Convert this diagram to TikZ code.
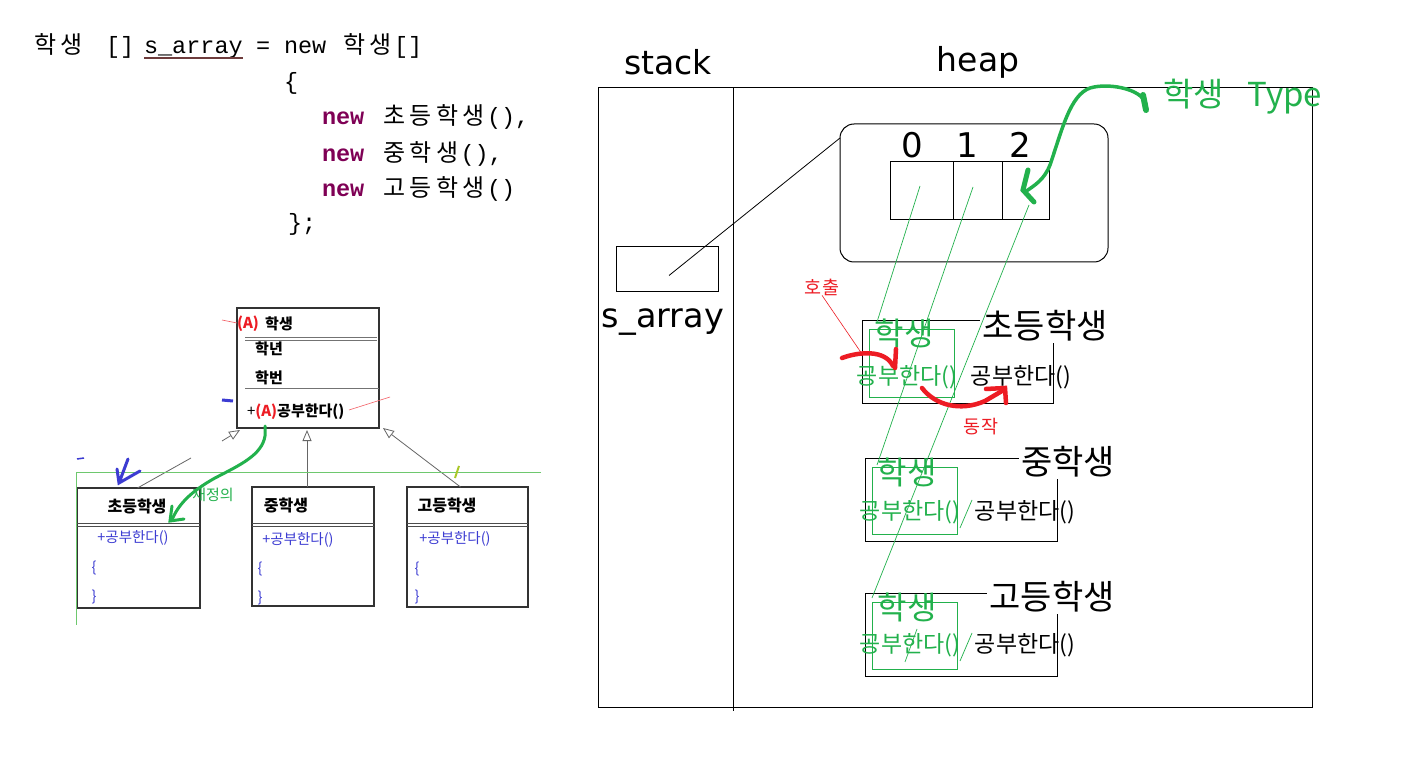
\documentclass[tikz,border=0pt]{standalone}
\usepackage{fontspec}
\setmainfont{DejaVu Sans}
\newfontfamily\kr{Noto Sans CJK KR}
\newfontfamily\mono{Liberation Mono}
\usetikzlibrary{arrows.meta,calc}
\newcommand\fsz[1]{\fontsize{#1}{#1}\selectfont}
\def\Kx#1{\ifx#1\relax\else\hbox to 26.5pt{\hss#1\hss}\expandafter\Kx\fi}
\newcommand\K[1]{{\kr\fsz{24}\Kx#1\relax}}
\definecolor{gr}{RGB}{34,177,76}
\definecolor{rd}{RGB}{237,28,36}
\definecolor{kw}{RGB}{127,0,85}
\definecolor{bl}{RGB}{60,60,210}
\definecolor{ulc}{RGB}{110,60,60}
\definecolor{lgr}{RGB}{110,200,110}
\definecolor{ygr}{RGB}{170,200,40}
\begin{document}
\begin{tikzpicture}[x=1pt,y=-1pt,
  every node/.style={inner sep=0pt,outer sep=0pt},
  codeline/.style={anchor=base west,font=\mono\fsz{23.5}},
  kwd/.style={anchor=base west,font=\mono\bfseries\fsz{23.5},text=kw},
  big/.style={font=\fsz{33}},
  krbig/.style={font=\kr\fsz{34}},
  grbig/.style={font=\kr\fsz{32},text=gr},
  meth/.style={font=\kr\fsz{23}},
  objbox/.style={draw=black,line width=1pt},
  inbox/.style={draw=gr,line width=0.9pt},
  ref/.style={draw=gr,line width=0.7pt},
  umlbox/.style={draw=black!80,line width=1.1pt},
  sep/.style={draw=black!55,line width=1pt},
  umltxt/.style={font=\kr\bfseries\fsz{15}},
  umlm/.style={font=\kr\fsz{14.5},text=bl},
  inh/.style={draw=black!60,line width=0.8pt,-{Triangle[open,length=11pt,width=9pt]}},
  redhand/.style={draw=rd,line width=4.5pt,line cap=round},
  grhand/.style={draw=gr,line width=3.5pt,line cap=round}]
\useasboundingbox (0,0) rectangle (1419,775);
\fill[white] (0,0) rectangle (1419,775);

% ---------------- code ----------------
\node[codeline] (c1a) at (32,54) {\K{학생}};
\node[codeline] (c1b) at (106,54) {[]};
\node[codeline] (c1c) at (144,54) {s\_array};
\node[codeline] (c1d) at (256,54) {=};
\node[codeline] (c1e) at (284,54) {new};
\node[codeline] (c1f) at (341,54) {\K{학생}[]};
\draw[ulc,line width=1.6pt] ($(c1c.base west)+(0,4)$) -- ($(c1c.base east)+(0,4)$);
\node[codeline] (c2) at (284,90) {\{};
\node[kwd] (n3) at (322,125) {new};
\node[codeline] (c3) at (381,125) {\K{초등학생}(),};
\node[kwd] (n4) at (322,162) {new};
\node[codeline] (c4) at (381,162) {\K{중학생}(),};
\node[kwd] (n5) at (322,197) {new};
\node[codeline] (c5) at (381,197) {\K{고등학생}()};
\node[codeline] (c6) at (288,231) {\};};

% ---------------- UML ----------------
\node[umlbox,minimum width=142,minimum height=120] (sup) at (308,368) {};
\node[anchor=west,font=\kr\bfseries\fsz{15},text=rd] (supa) at (237,324) {(A)};
\node[umltxt] (supn) at (279,324) {학생};
\draw[sep] (245,337.5) -- (377,337.5);
\draw[sep] (245,340.5) -- (377,340.5);
\node[umltxt] (att1) at (269,349) {학년};
\node[umltxt] (att2) at (269,378) {학번};
\draw[sep] (245,389) -- (379,389);
\node[anchor=west,font=\kr\fsz{15}] (supm) at (247,412) {+{\color{rd}\bfseries(A)}{\bfseries 공부한다()}};
\draw[rd!70,line width=0.6pt] (222,320) -- (237,323);
\draw[rd!70,line width=0.6pt] (349,410) -- (390,397);
\draw[bl,line width=3pt] (222,400) -- (233,401);

\node[umlbox,minimum width=123,minimum height=120] (sub1) at (138.5,548) {};
\node[umlbox,minimum width=122,minimum height=119] (sub2) at (313,546.5) {};
\node[umlbox,minimum width=121,minimum height=120] (sub3) at (467.5,547) {};
\node[umltxt,font=\kr\bfseries\fsz{16}] (t1) at (137,506) {초등학생};
\node[umltxt,font=\kr\bfseries\fsz{16}] (t2) at (286,505) {중학생};
\node[umltxt,font=\kr\bfseries\fsz{16}] (t3) at (447,505) {고등학생};
\foreach \a/\b in {77/200,252/374,407/528}{
  \draw[sep,black!70] (\a,523) -- (\b,523);
  \draw[sep,black!70] (\a,526) -- (\b,526);}
\node[umlm] (m1) at (133,538) {+공부한다()};
\node[umlm] (m2) at (298,540) {+공부한다()};
\node[umlm] (m3) at (455,539) {+공부한다()};
\node[umlm] (ob1) at (94,568) {\{};
\node[umlm] (cb1) at (94,597) {\}};
\node[umlm] (ob2) at (260,569) {\{};
\node[umlm] (cb2) at (260,598) {\}};
\node[umlm] (ob3) at (417,569) {\{};
\node[umlm] (cb3) at (417,597) {\}};

\coordinate (brk) at (191,458);
\coordinate (brk2) at (222,441);
\draw[draw=black!60,line width=0.8pt] ($(sub1.north)+(-1,0)$) -- (brk);
\draw[inh] (brk2) -- ($(sup.south west)+(3,2)$);
\draw[inh] ($(sub2.north)+(-6,0)$) -- ($(sup.south)+(-1,2)$);
\draw[inh] ($(sub3.north)+(-7,0)$) -- ($(sup.south east)+(4,0)$);

\draw[lgr,line width=0.9pt] (541,472) -- (76,472) -- (76,625);
\draw[bl,line width=3pt,line cap=round] (128,459) -- (119,483) (117,469) -- (119,483) -- (140,471);
\draw[bl,line width=1.5pt] (77,459) -- (84,458);
\draw[ygr,line width=2pt] (455,478) -- (459,466);

\node[font=\kr\fsz{15},text=gr] (redef) at (213,495) {재정의};
\draw[grhand,line width=3pt] ($(sup.south west)+(28,-2)$) -- ++(0,10) .. controls (262,455) and (240,465) .. (215,478) .. controls (190,492) and (178,505) .. (172,520);
\draw[grhand,line width=3pt] (172,506) -- (170,521) -- (184,519);

% ---------------- stack / heap ----------------
\node[big] (stk) at (668,62) {stack};
\node[big] (hp) at (978,62) {heap};
\draw[line width=1pt] (598,88) rectangle (1312,707);
\draw[line width=1pt] (733,88) -- (733,711);

\node[objbox,minimum width=102,minimum height=45] (sbox) at (667,269.5) {};
\node[big,font=\fsz{33.5}] (slab) at (663,322) {s\_array};

\node[objbox,rounded corners=14pt,minimum width=268,minimum height=138] (arr) at (974,193) {};
\node[objbox,minimum width=63,minimum height=58] (cell0) at (921.5,191) {};
\node[objbox,minimum width=49,minimum height=58] (cell1) at (977.5,191) {};
\node[objbox,minimum width=47,minimum height=58] (cell2) at (1025.5,191) {};
\node[font=\fsz{34}] (d0) at (912,145) {0};
\node[font=\fsz{34}] (d1) at (967,145) {1};
\node[font=\fsz{34}] (d2) at (1020,145) {2};
\draw[line width=0.8pt] ($(sbox.center)+(2,6)$) -- ($(arr.north west)+(0,14)$);

% objects
\node[objbox,minimum width=191,minimum height=83] (o1) at (957.5,362.5) {};
\node[inbox,minimum width=85,minimum height=68] (g1) at (911.5,363) {};
\node[objbox,minimum width=192,minimum height=83] (o2) at (961,499.5) {};
\node[inbox,minimum width=85,minimum height=67] (g2) at (914.5,500.5) {};
\node[objbox,minimum width=192,minimum height=83] (o3) at (961,634.5) {};
\node[inbox,minimum width=85,minimum height=67] (g3) at (914.5,635.5) {};

\node[krbig,fill=white,inner sep=2pt] (l1) at (1045,326) {초등학생};
\node[krbig,fill=white,inner sep=2pt] (l2) at (1068,462) {중학생};
\node[krbig,fill=white,inner sep=2pt] (l3) at (1052,597) {고등학생};
\node[grbig] (s1) at (904,333) {학생};
\node[grbig] (s2) at (907,472) {학생};
\node[grbig] (s3) at (907,607) {학생};
\node[meth,text=gr] (gm1) at (907,377) {공부한다()};
\node[meth,text=gr] (gm2) at (910,512) {공부한다()};
\node[meth,text=gr] (gm3) at (910,645) {공부한다()};
\node[meth] (bm1) at (1021,377) {공부한다()};
\node[meth] (bm2) at (1025,512) {공부한다()};
\node[meth] (bm3) at (1025,645) {공부한다()};

% references from array cells
\draw[ref] ($(cell0.center)+(-1.5,-5)$) -- ($(o1.north west)+(15,1)$);
\draw[ref] ($(cell1.center)+(-4.5,-4)$) -- ($(o2.north west)+(12,7)$);
\draw[ref] ($(cell2.center)+(3.5,14)$) -- ($(o3.north west)+(7,5)$);
\draw[ref] (972,500) -- (960,528);
\draw[ref] (972,633) -- (960,661);
\draw[ref] (917,629) -- (905,662);

% red annotations
\node[font=\kr\fsz{18.5},text=rd] (call) at (822,287) {호출};
\node[font=\kr\fsz{18.5},text=rd] (act) at (981,427) {동작};
\draw[rd,line width=0.6pt] (call.south) -- ($(o1.west)+(-1,-10)$);
\draw[redhand] (842,358) .. controls (858,352) and (885,349) .. (893,366);
\draw[redhand] (896,349) -- (895,368);
\draw[redhand] (922,388) .. controls (935,405) and (960,412) .. (985,401) -- (1002,391);
\draw[redhand] (986,389) -- (1005,388) -- (1006,403);

% green type annotation
\node[font=\kr\fsz{33},text=gr,anchor=west] (type) at (1163,97) {학생\hspace{24pt}Type};
\draw[grhand] (1146,108) .. controls (1148,90) and (1110,82) .. (1090,88) .. controls (1070,95) and (1062,130) .. (1050,165) .. controls (1044,180) and (1035,185) .. (1025,192);
\draw[grhand,line width=6pt] (1143,95) -- (1146,110);
\draw[grhand,line width=5pt] (1028,170) -- (1023,190) -- (1034,202);
\end{tikzpicture}
\end{document}
